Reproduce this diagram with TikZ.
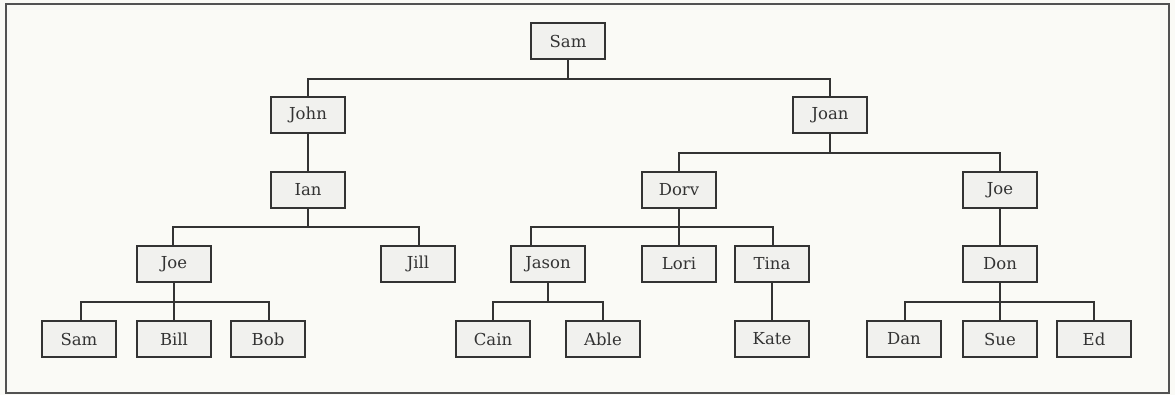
\documentclass[tikz,border=0pt]{standalone}
\usepackage{fontspec}
\newfontfamily\boxfont{DejaVu Serif}
\definecolor{paper}{HTML}{FAFAF6}
\definecolor{boxfill}{HTML}{F1F1EE}
\definecolor{ink}{HTML}{333333}
\begin{document}
\begin{tikzpicture}[x=1pt,y=-1pt,
  person/.style={draw=ink, line width=1.4pt, fill=boxfill, inner sep=0pt,
    outer sep=0pt, minimum width=74pt, minimum height=36pt, text=ink,
    font=\boxfont\fontsize{16.5}{19}\selectfont},
  link/.style={draw=ink, line width=1.4pt}]
\fill[paper] (0,0) rectangle (1175,395);
\useasboundingbox (0,0) rectangle (1175,395);
\draw[ink!85, line width=1.3pt] (6,4) rectangle (1169,393);

% generation 0-1
\node[person] (sam)  at (568,41) {Sam};
\node[person] (john) at (308,115) {John};
\node[person] (joan) at (830,115) {Joan};
% generation 2
\node[person] (ian)  at (308,190) {Ian};
\node[person] (dorv) at (679,190) {Dorv};
\node[person] (joeR) at (1000,190) {Joe};
% generation 3
\node[person] (joeL)  at (174,264) {Joe};
\node[person] (jill)  at (418,264) {Jill};
\node[person] (jason) at (548,264) {Jason};
\node[person] (lori)  at (679,264) {Lori};
\node[person] (tina)  at (772,264) {Tina};
\node[person] (don)   at (1000,264) {Don};
% generation 4
\node[person] (samL) at (79,339) {Sam};
\node[person] (bill) at (174,339) {Bill};
\node[person] (bob)  at (268,339) {Bob};
\node[person] (cain) at (493,339) {Cain};
\node[person] (able) at (603,339) {Able};
\node[person] (kate) at (772,339) {Kate};
\node[person] (dan)  at (904,339) {Dan};
\node[person] (sue)  at (1000,339) {Sue};
\node[person] (ed)   at (1094,339) {Ed};

% (y axis points down: a positive yshift raises a point)
% Sam's children
\coordinate (busSam) at ([yshift=18pt]john.north);
\draw[link] (sam.south) -- (sam.south |- busSam);
\draw[link] (john.north) -- (busSam) -| (joan.north);
% John -> Ian
\draw[link] (john.south) -- (ian.north);
% Joan's children
\coordinate (busJoan) at ([yshift=19pt]dorv.north);
\draw[link] (joan.south) -- (joan.south |- busJoan);
\draw[link] (dorv.north) -- (busJoan) -| (joeR.north);
% Ian's children
\coordinate (busIan) at ([xshift=-1pt,yshift=19pt]joeL.north);
\draw[link] (ian.south) -- (ian.south |- busIan);
\draw[link] ([xshift=-1pt]joeL.north) -- (busIan) -| ([xshift=1pt]jill.north);
% Dorv's children
\coordinate (jasonTop) at ([xshift=-17pt]jason.north);
\coordinate (busDorv) at ([yshift=19pt]jasonTop);
\draw[link] (dorv.south) -- (lori.north);
\draw[link] (jasonTop) -- (busDorv) -| ([xshift=1pt]tina.north);
% Joe -> Don
\draw[link] (joeR.south) -- (don.north);
% Tina -> Kate
\draw[link] (tina.south) -- (kate.north);
% Joe's children
\coordinate (busJoe) at ([xshift=2pt,yshift=19pt]samL.north);
\draw[link] (joeL.south) -- (bill.north);
\draw[link] ([xshift=2pt]samL.north) -- (busJoe) -| ([xshift=1pt]bob.north);
% Jason's children
\coordinate (busJason) at ([yshift=19pt]cain.north);
\draw[link] (jason.south) -- (jason.south |- busJason);
\draw[link] (cain.north) -- (busJason) -| (able.north);
% Don's children
\coordinate (busDon) at ([xshift=1pt,yshift=19pt]dan.north);
\draw[link] (don.south) -- (sue.north);
\draw[link] ([xshift=1pt]dan.north) -- (busDon) -| (ed.north);
\end{tikzpicture}
\end{document}
